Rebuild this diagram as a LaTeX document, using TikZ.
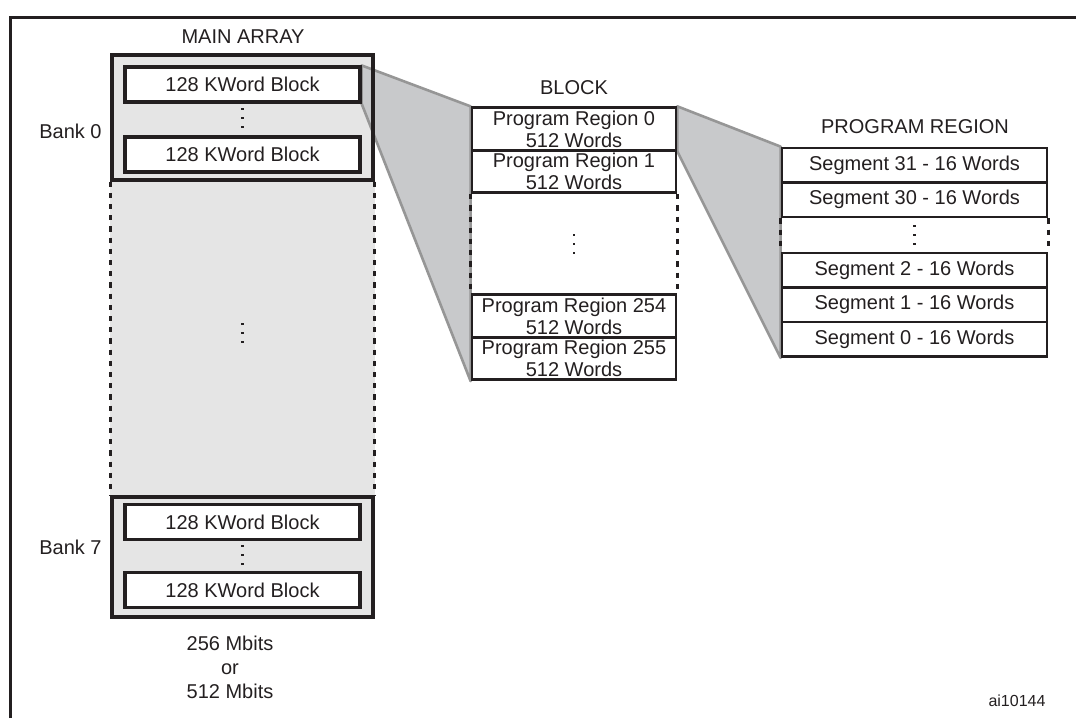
\documentclass[tikz,border=0pt]{standalone}
\usepackage{fontspec}
\setmainfont{Liberation Sans}
\usetikzlibrary{positioning,backgrounds}
\definecolor{arraygray}{RGB}{229,229,229}
\definecolor{funnelgray}{RGB}{200,201,203}
\definecolor{edgegray}{RGB}{150,150,150}
\definecolor{ink}{RGB}{35,31,32}

\begin{document}
\begin{tikzpicture}[x=0.5pt,y=-0.5pt,
  every node/.style={text=ink,font=\fontsize{10}{11}\selectfont,inner sep=0pt},
  kwblock/.style={draw=ink,line width=1.6pt,fill=white,minimum width=117.5pt,minimum height=17.5pt},
  bankbox/.style={draw=ink,line width=1.6pt,minimum width=130.5pt},
  regionrow/.style={draw=ink,line width=1.4pt,fill=white,minimum width=102pt,minimum height=21.25pt,align=center},
  segrow/.style={draw=ink,line width=1.4pt,fill=white,minimum width=132.5pt,minimum height=17.25pt},
  gapside/.style={ink,line width=1.5pt,dash pattern=on 2.6pt off 3pt},
  funnel/.style={fill=funnelgray,draw=edgegray,line width=1.3pt,line join=round}]
  \useasboundingbox (0,0) rectangle (1076,718);
  \draw[ink,line width=1.5pt] (10,718) -- (10,17) -- (1076,17);
  % main array
  \node (maintitle) at (243,37) {MAIN ARRAY};
  \node[bankbox,minimum height=62.5pt] (bank0) at (242.5,117.5) {};
  \node[bankbox,minimum height=60pt] (bank7) at (242.5,557) {};
  \draw[gapside] (bank0.south west) -- (bank7.north west);
  \draw[gapside] (bank0.south east) -- (bank7.north east);
  \foreach \nm/\y in {kw0top/84.5,kw0bot/154.5,kw7top/522,kw7bot/590}
    \node[kwblock] (\nm) at (242.5,\y) {128 KWord Block};
  \node[anchor=east] (bank0label) at (102,131) {Bank 0};
  \node[anchor=east] (bank7label) at (102,547) {Bank 7};
  \node[align=center,font=\fontsize{10}{12}\selectfont] (capacity) at (230,667) {256 Mbits\\or\\512 Mbits};
  % block
  \node (blocktitle) at (574,88) {BLOCK};
  \foreach \nm/\y/\t in {blk0/129/0,blk1/171.5/1,blk254/316/254,blk255/358.5/255}
    \node[regionrow] (\nm) at (574,\y) {Program Region \t\\512 Words};
  \draw[gapside] (blk1.south west) -- (blk254.north west);
  \draw[gapside] (blk1.south east) -- (blk254.north east);
  % program region
  \node (regiontitle) at (915,127) {PROGRAM REGION};
  \foreach \s/\y in {31/165.25,30/199.75,2/270.25,1/304.75,0/339.25}
    \node[segrow] (seg\s) at (914.5,\y) {Segment \s\ - 16 Words};
  \draw[gapside] (seg30.south west) -- (seg2.north west);
  \draw[gapside] (seg30.south east) -- (seg2.north east);
  % vertical dots
  \foreach \x/\y in {242.5/118,242.5/333,242.5/555,574/244,914.5/235}
    \foreach \k in {-1,0,1}
      \fill[ink] (\x-1.3,\y+\k*9-1.3) rectangle ++(2.6,2.6);
  \node[font=\fontsize{8}{9.6}\selectfont] (figid) at (1017,701) {ai10144};
  \begin{scope}[on background layer]
    \fill[arraygray] (bank0.north west) rectangle (bank7.south east);
    \draw[funnel] (kw0top.north east) -- (blk0.north west) -- (blk255.south west) -- (kw0top.south east) -- cycle;
    \draw[funnel] (blk0.north east) -- (seg31.north west) -- (seg0.south west) -- (blk0.south east) -- cycle;
  \end{scope}
\end{tikzpicture}
\end{document}
